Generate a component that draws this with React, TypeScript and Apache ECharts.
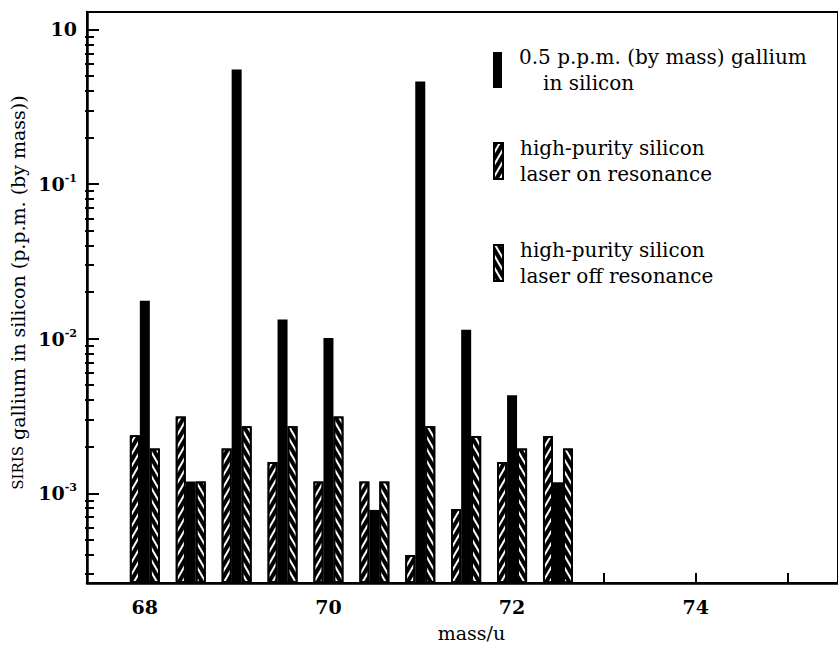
import React, { useEffect, useRef } from "react";
import * as echarts from "echarts";

const masses = [68, 68.5, 69, 69.5, 70, 70.5, 71, 71.5, 72, 72.5];
const gallium = [0.0176, 0.00119, 0.55, 0.0133, 0.0101, 0.00078, 0.46, 0.0114, 0.0043, 0.00118];
const laserOn = [0.00237, 0.00314, 0.00195, 0.00159, 0.00119, 0.00119, 0.000398, 0.00079, 0.00159, 0.00235];
const laserOff = [0.00195, 0.00119, 0.00271, 0.00271, 0.00314, 0.00119, 0.00271, 0.00235, 0.00195, 0.00195];

const xTicks = [68, 69, 70, 71, 72, 73, 74, 75];
const xLabels = [68, 70, 72, 74];
const yMajor = [1, 0.1, 0.01, 0.001];
const yMajorSup = ["", "-1", "-2", "-3"];
const yMinor: number[] = [];
[0.0001, 0.001, 0.01, 0.1].forEach((d) => {
  [2, 3, 4, 5, 6, 7, 8, 9].forEach((k) => {
    const v = +(k * d).toPrecision(3);
    if (v > 0.00027 && v < 1.29) yMinor.push(v);
  });
});

const SERIF = "DejaVu Serif";
const NAME_GA = "0.5 p.p.m. (by mass) gallium in silicon";
const NAME_ON = "high-purity silicon laser on resonance";
const NAME_OFF = "high-purity silicon laser off resonance";
const LEGEND_NAMES = [NAME_GA, NAME_ON, NAME_OFF];
const LEGEND_TEXT = [
  "{a|0.5 p.p.m. (by mass) gallium}\n{b|in silicon}",
  "{a|high-purity silicon}\n{a|laser on resonance}",
  "{a|high-purity silicon}\n{a|laser off resonance}",
];
const LEGEND_TOPS = [42, 133, 235];

const GRID_LEFT = 87;
const GRID_RIGHT = -2;
const WIDTH = 838;

export default function App() {
  const ref = useRef<HTMLDivElement>(null);
  useEffect(() => {
    if (!ref.current) return;
    const chart = echarts.init(ref.current, undefined, { renderer: "svg" });
    const hatch = (rot: number) => ({
      symbol: "rect",
      symbolSize: 1,
      dashArrayX: [1, 0],
      dashArrayY: [4, 2],
      rotation: rot,
      color: "#000",
    });
    const yMin = 2.627e-4;
    const yMax = 1.297;
    const gridWidth = WIDTH - GRID_LEFT - GRID_RIGHT;
    const legends = LEGEND_NAMES.map((name, i) => ({
      orient: "vertical",
      left: 488,
      top: LEGEND_TOPS[i],
      itemWidth: 9,
      itemHeight: 36,
      icon: "rect",
      selectedMode: false,
      data: [name],
      formatter: () => LEGEND_TEXT[i],
      textStyle: {
        fontFamily: SERIF,
        fontSize: 20,
        color: "#000",
        rich: {
          a: { fontFamily: SERIF, fontSize: 20, color: "#000", lineHeight: 26, padding: [0, 0, 0, 12] },
          b: { fontFamily: SERIF, fontSize: 20, color: "#000", lineHeight: 26, padding: [0, 0, 0, 36] },
        },
      },
    }));
    chart.setOption({
      animation: false,
      backgroundColor: "#fff",
      grid: {
        left: GRID_LEFT,
        top: 12,
        right: GRID_RIGHT,
        bottom: 69,
        show: true,
        borderColor: "#000",
        borderWidth: 2,
        backgroundColor: "transparent",
      },
      legend: legends,
      xAxis: {
        type: "value",
        min: 67.37,
        max: 75.55,
        name: "mass/u",
        nameLocation: "middle",
        nameGap: 40,
        nameTextStyle: { fontFamily: SERIF, fontSize: 19, color: "#000", padding: [0, 0, 0, 18] },
        axisLine: { show: true, lineStyle: { color: "#000", width: 2.5 } },
        axisTick: { show: true, inside: true, length: 10, customValues: xTicks, lineStyle: { color: "#000", width: 2 } },
        axisLabel: {
          customValues: xLabels,
          fontFamily: SERIF,
          fontWeight: "bold",
          fontSize: 19,
          color: "#000",
          margin: 14,
        },
        splitLine: { show: false },
      },
      yAxis: [
        {
          type: "log",
          min: yMin,
          max: yMax,
          startValue: yMin,
          position: "left",
          name: "{sc|SIRIS} gallium in silicon (p.p.m. (by mass))",
          nameLocation: "middle",
          nameGap: 47,
          nameTextStyle: {
            fontFamily: SERIF,
            fontSize: 19,
            color: "#000",
            padding: [0, 0, 0, 10],
            rich: {
              sc: { fontFamily: SERIF, fontSize: 15, color: "#000" },
            },
          },
          axisLine: { show: true, lineStyle: { color: "#000", width: 2.5 } },
          axisTick: { show: true, inside: true, length: 12, customValues: yMajor, lineStyle: { color: "#000", width: 2 } },
          axisLabel: {
            customValues: yMajor,
            margin: 10,
            formatter: (v: number) => {
              const i = yMajor.findIndex((m) => Math.abs(Math.log10(m) - Math.log10(v)) < 1e-6);
              const sup = i >= 0 ? yMajorSup[i] : "";
              return sup ? "{b|10}{s|" + sup + "}" : "{b|10}";
            },
            rich: {
              b: { fontFamily: SERIF, fontWeight: "bold", fontSize: 19, color: "#000", lineHeight: 22 },
              s: { fontFamily: SERIF, fontWeight: "bold", fontSize: 11, color: "#000", lineHeight: 22, verticalAlign: "top", padding: [0, 0, 8, 0] },
            },
          },
          splitLine: { show: false },
        },
        {
          type: "log",
          min: yMin,
          max: yMax,
          position: "right",
          offset: -gridWidth,
          axisLine: { show: false },
          axisTick: { show: true, inside: false, length: 9, customValues: yMinor, lineStyle: { color: "#000", width: 2 } },
          axisLabel: { show: false },
          splitLine: { show: false },
        },
      ],
      series: [
        {
          name: NAME_ON,
          type: "bar",
          barWidth: 10,
          barGap: "0%",
          data: masses.map((m, i) => [m, laserOn[i]]),
          itemStyle: { color: "#fff", borderColor: "#000", borderWidth: 1.8, decal: hatch(-Math.PI / 3) },
        },
        {
          name: NAME_GA,
          type: "bar",
          barWidth: 10,
          barGap: "0%",
          data: masses.map((m, i) => [m, gallium[i]]),
          itemStyle: { color: "#000", borderColor: "#000", borderWidth: 0 },
        },
        {
          name: NAME_OFF,
          type: "bar",
          barWidth: 10,
          barGap: "0%",
          data: masses.map((m, i) => [m, laserOff[i]]),
          itemStyle: { color: "#fff", borderColor: "#000", borderWidth: 1.8, decal: hatch(Math.PI / 3) },
        },
      ],
    });
    return () => chart.dispose();
  }, []);
  return (
    <div
      ref={ref}
      style={{ position: "fixed", left: 0, top: 0, width: WIDTH, height: 652, background: "#fff" }}
    />
  );
}
